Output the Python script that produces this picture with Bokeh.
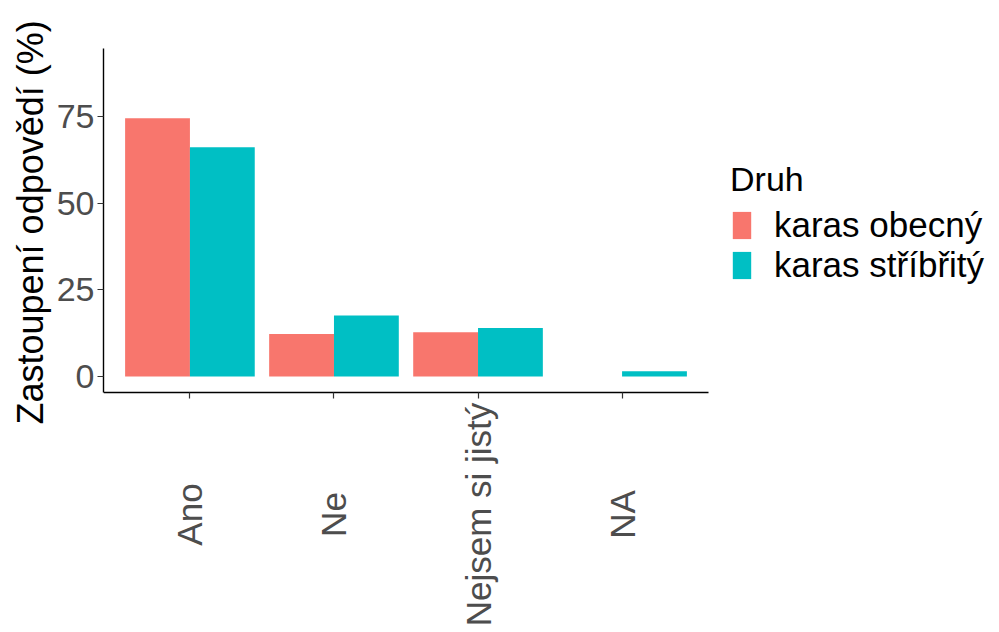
import math
from bokeh.plotting import figure
from bokeh.models import (Range1d, FixedTicker, Legend, LegendItem, LabelSet,
                          ColumnDataSource, LinearAxis, Title)
from bokeh.core.properties import value
from bokeh.transform import dodge
from bokeh.embed import file_html
from bokeh.resources import INLINE

categories = ["Ano", "Ne", "Nejsem si jistý", "NA"]
species = ["karas obecný", "karas stříbřitý"]
obecny = [74.5, 12.3, 12.8, float("nan")]
stribrity = [66.1, 17.6, 14.0, 1.5]
colors = ["#F8766D", "#00BFC4"]
y_ticks = [0, 25, 50, 75]
y_title = "Zastoupení odpovědí (%)"
legend_title = "Druh"

FONT = "Liberation Sans"

# layout (pixels on the canvas)
W, H = 996, 632
LEFT, TOP = 103, 48          # frame left / top
AXIS_BOTTOM_PX = 392         # where the x axis line sits
AXIS_RIGHT_PX = 708          # where the x axis line ends
LABEL_CENTER_PX = 514        # centre of the rotated category labels
# axis extents in data units (ggplot default expansion)
Y_LO, Y_HI = -4.6, 94.6
X_LO, X_HI = 0.4, len(categories) + 0.6

ky = (AXIS_BOTTOM_PX - TOP) / (Y_HI - Y_LO)          # px per y unit
kx = (AXIS_RIGHT_PX - LEFT) / (X_HI - X_LO)          # px per x unit
y_start = Y_HI - (H - TOP) / ky
x_end = X_LO + (W - LEFT) / kx

pos = [i + 1 for i in range(len(categories))]
source = ColumnDataSource(data=dict(pos=pos, cat=categories,
                                    obecny=obecny, stribrity=stribrity))

p = figure(x_range=Range1d(X_LO, x_end), y_range=Range1d(y_start, Y_HI),
           width=W, height=H, output_backend="svg", toolbar_location=None,
           x_axis_location=None, y_axis_location=None,
           min_border_left=LEFT, min_border_right=0, min_border_top=TOP,
           min_border_bottom=0)

r1 = p.vbar(x=dodge("pos", -0.225), top="obecny", bottom=0, width=0.45,
            source=source, fill_color=colors[0], line_color=None)
r2 = p.vbar(x=dodge("pos", 0.225), top="stribrity", bottom=0, width=0.45,
            source=source, fill_color=colors[1], line_color=None)

p.xgrid.visible = False
p.ygrid.visible = False
p.outline_line_color = None
p.background_fill_color = "white"
p.border_fill_color = "white"

# y axis
ya = LinearAxis(ticker=FixedTicker(ticks=y_ticks), bounds=(Y_LO, Y_HI))
ya.major_label_text_font = FONT
ya.major_label_text_font_size = "34px"
ya.major_label_text_color = "#4D4D4D"
ya.major_label_standoff = 3
ya.major_tick_out = 6
ya.major_tick_in = 0
ya.minor_tick_out = 0
ya.minor_tick_in = 0
ya.major_tick_line_color = "#333333"
ya.major_tick_line_width = 1.2
ya.axis_line_color = "black"
ya.axis_line_width = 1.4
p.add_layout(ya, "left")

# y axis title, placed along the y extent of the axis (not the whole frame)
yt = Title(text=y_title, align="left", offset=(H - 424), vertical_align="bottom",
           standoff=6, text_font=FONT, text_font_size="36px", text_font_style="normal",
           text_color="black")
p.add_layout(yt, "left")

# x axis, pinned at the bottom of the y extent, ticks pointing down
xa = LinearAxis(ticker=FixedTicker(ticks=pos), bounds=(X_LO, X_HI), fixed_location=Y_LO)
xa.major_label_text_color = None
xa.major_label_text_font_size = "1px"
xa.major_label_standoff = 0
xa.major_tick_out = 0
xa.major_tick_in = 6
xa.minor_tick_out = 0
xa.minor_tick_in = 0
xa.major_tick_line_color = "#333333"
xa.major_tick_line_width = 1.2
xa.axis_line_color = "black"
xa.axis_line_width = 1.4
p.add_layout(xa, "above")

# category labels, rotated and centred like the reference
label_y = Y_HI - (LABEL_CENTER_PX - TOP) / ky
labels = LabelSet(x="pos", y=label_y, text="cat", source=source,
                  angle=math.pi / 2, text_align="center", text_baseline="middle",
                  text_font=value(FONT), text_font_size="35px", text_color="#4D4D4D")
p.add_layout(labels)

legend = Legend(items=[LegendItem(label=species[0], renderers=[r1]),
                       LegendItem(label=species[1], renderers=[r2])],
                title=legend_title, location=(730 - LEFT, H - 285), margin=0, padding=0,
                glyph_width=23, glyph_height=34, spacing=0, label_standoff=21,
                title_standoff=6,
                label_text_font=FONT, label_text_font_size="35px", label_text_color="black",
                title_text_font=FONT, title_text_font_size="34px",
                title_text_font_style="normal", title_text_color="black",
                border_line_color=None, background_fill_alpha=0)
p.add_layout(legend)

open("out.html", "w").write(file_html(p, INLINE))
